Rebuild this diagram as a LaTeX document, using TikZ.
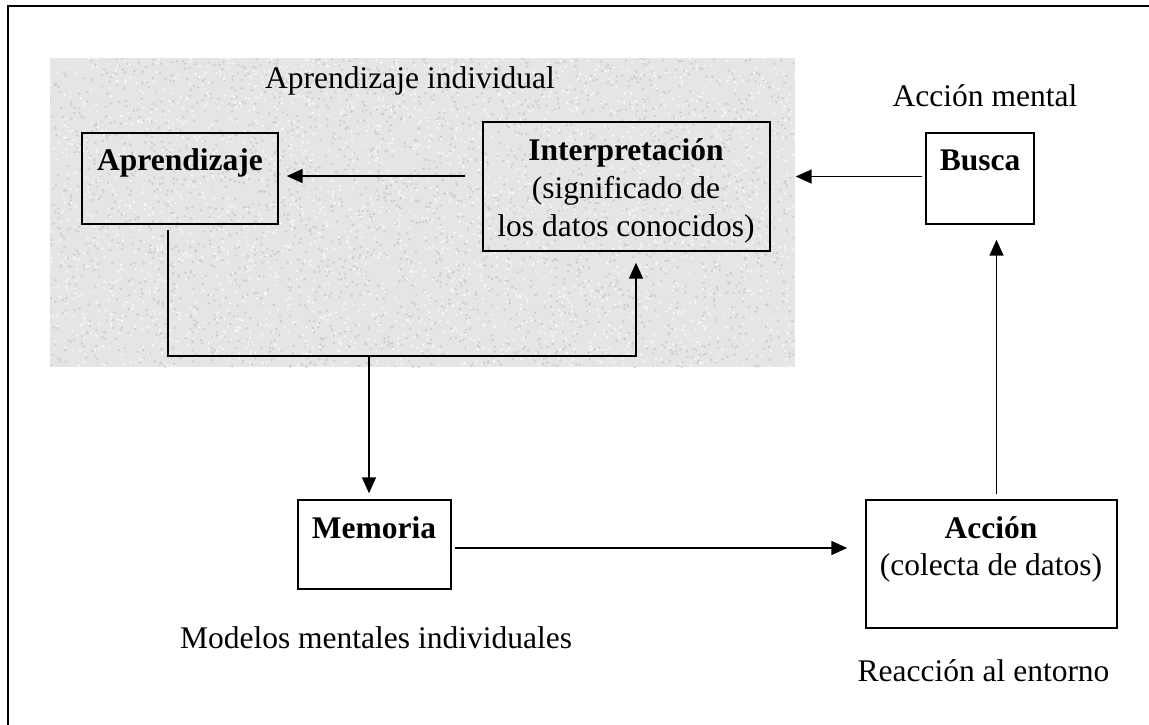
\documentclass[tikz,border=0pt]{standalone}
\usepackage{fontspec}
\setmainfont{Liberation Serif}
\usetikzlibrary{arrows.meta,calc}
\definecolor{bgtex}{RGB}{229,229,229}
\definecolor{specdark}{RGB}{205,205,205}
\definecolor{speclight}{RGB}{246,246,246}
\tikzset{
  txt/.style={font=\fontsize{31.5}{38}\selectfont, inner sep=0pt, anchor=base, align=center},
  btxt/.style={txt, font=\fontsize{31.5}{38}\selectfont\bfseries},
  boxshape/.style={draw=black, line width=1.4pt, inner sep=0pt, rectangle},
  conn/.style={draw=black, line width=1.5pt},
  arr/.style={conn, -{Triangle[length=16pt,width=14pt]}},
}
\begin{document}
\begin{tikzpicture}[x=1pt,y=-1pt]
\useasboundingbox (0,0) rectangle (1149,724);
% frame (only left and top visible)
\draw[line width=2pt] (8,740) -- (8,6) -- (1170,6);
% textured background region
\fill[bgtex] (50,58) rectangle (795,367);
\begin{scope}
\clip (50,58) rectangle (795,367);
\pgfmathsetseed{7}
\foreach \i in {1,...,2600}{
  \pgfmathsetmacro\rx{50+745*rnd}
  \pgfmathsetmacro\ry{58+309*rnd}
  \fill[specdark] (\rx,\ry) circle[radius=1.3pt];
}
\foreach \i in {1,...,2600}{
  \pgfmathsetmacro\rx{50+745*rnd}
  \pgfmathsetmacro\ry{58+309*rnd}
  \fill[speclight] (\rx,\ry) circle[radius=1.3pt];
}
\end{scope}

% boxes
\node[boxshape, minimum width=196pt, minimum height=91pt] (apr) at (180,178.5) {};
\node[boxshape, minimum width=287pt, minimum height=129pt] (interp) at (626.5,186.5) {};
\node[boxshape, fill=white, minimum width=108pt, minimum height=91pt] (busca) at (980,178.5) {};
\node[boxshape, fill=white, minimum width=153pt, minimum height=89pt] (mem) at (374.5,544.5) {};
\node[boxshape, fill=white, minimum width=251pt, minimum height=128pt] (accion) at (991.5,564) {};

% texts
\node[txt] (tapind) at (410,88) {Aprendizaje individual};
\node[btxt] (tapr) at (180,170) {Aprendizaje};
\node[btxt] (tint1) at (626,160) {Interpretación};
\node[txt] (tint2) at (626,198) {(significado de};
\node[txt] (tint3) at (626,236.5) {los datos conocidos)};
\node[txt] (tacm) at (985,106.5) {Acción mental};
\node[btxt] (tbus) at (980,170) {Busca};
\node[btxt] (tmem) at (374,538) {Memoria};
\node[btxt] (tacc1) at (991,538) {Acción};
\node[txt] (tacc2) at (991,575) {(colecta de datos)};
\node[txt] (tmod) at (376,648) {Modelos mentales individuales};
\node[txt] (treac) at (983.5,681.5) {Reacción al entorno};

% connectors
\coordinate (jn) at (369,356);
\draw[arr] ($(interp.west)+(-17,-10.5)$) coordinate (i0) -- (i0 -| {$(apr.east)+(8,0)$});
\draw[arr] ($(busca.west)+(-3,-2)$) coordinate (b0) -- (b0 -| {$(interp.east)+(25,0)$});
\draw[arr] ($(apr.south)+(-12,5)$) |- (jn) -| ($(interp.south)+(9.5,11)$);
\draw[arr] (jn) -- (jn |- {$(mem.north)+(0,-6)$});
\draw[arr] ($(mem.east)+(3,3.5)$) coordinate (m0) -- (m0 -| {$(accion.west)+(-18,0)$});
\draw[arr] ($(accion.north)+(5,-5)$) coordinate (a0) -- (a0 |- {$(busca.south)+(0,15)$});
\end{tikzpicture}
\end{document}
